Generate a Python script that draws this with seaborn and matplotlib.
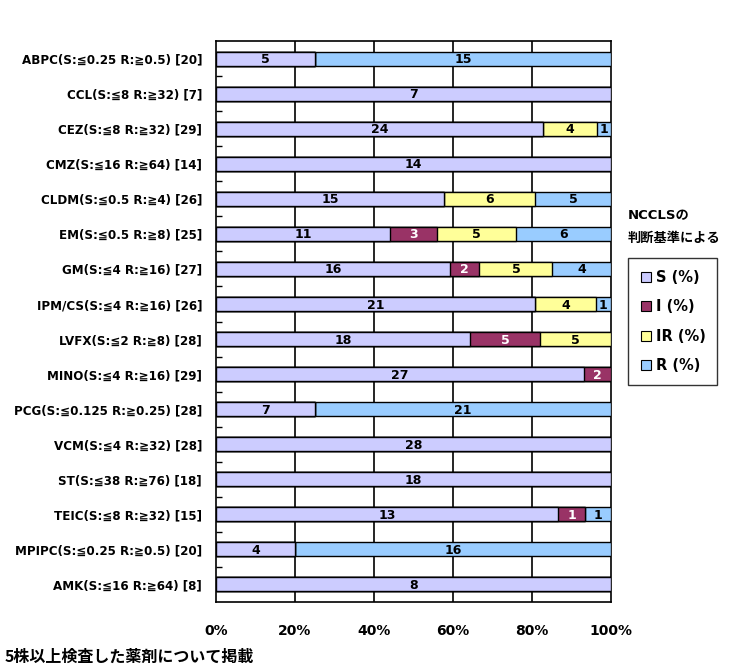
import numpy as np
import pandas as pd
import matplotlib
matplotlib.use("Agg")
import matplotlib.pyplot as plt
from matplotlib.lines import Line2D
import seaborn as sns

drugs = ["ABPC(S:≦0.25 R:≧0.5) [20]", "CCL(S:≦8 R:≧32) [7]", "CEZ(S:≦8 R:≧32) [29]",
         "CMZ(S:≦16 R:≧64) [14]", "CLDM(S:≦0.5 R:≧4) [26]", "EM(S:≦0.5 R:≧8) [25]",
         "GM(S:≦4 R:≧16) [27]", "IPM/CS(S:≦4 R:≧16) [26]", "LVFX(S:≦2 R:≧8) [28]",
         "MINO(S:≦4 R:≧16) [29]", "PCG(S:≦0.125 R:≧0.25) [28]", "VCM(S:≦4 R:≧32) [28]",
         "ST(S:≦38 R:≧76) [18]", "TEIC(S:≦8 R:≧32) [15]", "MPIPC(S:≦0.25 R:≧0.5) [20]",
         "AMK(S:≦16 R:≧64) [8]"]
s_cnt = [5, 7, 24, 14, 15, 11, 16, 21, 18, 27, 7, 28, 18, 13, 4, 8]
i_cnt = [0, 0, 0, 0, 0, 3, 2, 0, 5, 2, 0, 0, 0, 1, 0, 0]
ir_cnt = [0, 0, 4, 0, 6, 5, 5, 4, 5, 0, 0, 0, 0, 0, 0, 0]
r_cnt = [15, 0, 1, 0, 5, 6, 4, 1, 0, 0, 21, 0, 0, 1, 16, 0]

series = ["S (%)", "I (%)", "IR (%)", "R (%)"]
colors = ["#ccccff", "#993366", "#ffff99", "#99ccff"]
text_colors = ["black", "white", "black", "black"]

counts = pd.DataFrame({"S": s_cnt, "I": i_cnt, "IR": ir_cnt, "R": r_cnt}, index=drugs)
pct = counts.div(counts.sum(axis=1), axis=0) * 100
cum = pct.cumsum(axis=1)

sns.set_style("white")
plt.rcParams["font.family"] = ["DejaVu Sans", "Noto Sans CJK JP"]
plt.rcParams["font.weight"] = "bold"
for key in ["text.color", "axes.labelcolor", "xtick.color", "ytick.color"]:
    plt.rcParams[key] = "black"

fig = plt.figure(figsize=(7.38, 6.72), dpi=100)
ax = fig.add_axes([216 / 738, 1 - 602 / 672, 395 / 738, 561 / 672])

# draw cumulative bars from the widest down so each segment shows
for k in range(3, -1, -1):
    sns.barplot(x=cum.iloc[:, k].values, y=drugs, orient="h", color=colors[k],
                edgecolor="black", linewidth=1, width=0.4, saturation=1, ax=ax, zorder=3)

for j, col in enumerate(counts.columns):
    left = cum.iloc[:, j] - pct.iloc[:, j]
    for row in range(len(drugs)):
        n = counts.iloc[row, j]
        if n > 0:
            ax.text(left.iloc[row] + pct.iloc[row, j] / 2, row + 0.03, str(n),
                    ha="center", va="center", fontsize=9, fontweight="bold",
                    color=text_colors[j], zorder=5)

ax.set_xlim(0, 100)
ax.set_ylim(len(drugs) - 0.5, -0.5)
ax.set_xlabel("")
ax.set_ylabel("")
ax.set_xticks([0, 20, 40, 60, 80, 100])
ax.set_xticklabels(["0%", "20%", "40%", "60%", "80%", "100%"], fontsize=10, fontweight="bold")
ax.tick_params(axis="x", length=0, pad=16)
ax.tick_params(axis="y", which="major", length=0, pad=10, labelsize=8.6)
ax.set_yticks(np.arange(len(drugs) - 1) + 0.5, minor=True)
ax.tick_params(axis="y", which="minor", left=True, direction="in", length=4,
               color="black", width=1)
for x in [20, 40, 60, 80]:
    ax.axvline(x, color="black", lw=1.2, zorder=1)
for sp in ax.spines.values():
    sp.set_color("black")
    sp.set_linewidth(1.2)

handles = [Line2D([], [], marker="s", linestyle="none", markersize=7,
                  markerfacecolor=c, markeredgecolor="black", markeredgewidth=0.8)
           for c in colors]
leg = fig.legend(handles, series, loc="upper left", bbox_to_anchor=(628 / 738, 1 - 258 / 672),
                 frameon=True, fancybox=False, edgecolor="black", fontsize=10.5,
                 handlelength=0.8, handletextpad=0.3, labelspacing=1.0,
                 borderpad=0.8, borderaxespad=0)
leg.get_frame().set_linewidth(1)

fig.text(628 / 738, 1 - 216 / 672, "NCCLSの", fontsize=9.5, fontweight="bold",
         va="center", ha="left", family=["DejaVu Sans", "Noto Sans CJK JP"])
fig.text(628 / 738, 1 - 238 / 672, "判断基準による", fontsize=9.5, fontweight="bold",
         va="center", ha="left", family=["Noto Sans CJK JP"])
fig.text(5 / 738, 1 - 657 / 672, "5株以上検査した薬剤について掲載", fontsize=11.5,
         fontweight="bold", va="center", ha="left", family=["Noto Sans CJK JP"])

fig.savefig("out.png", dpi=100)
